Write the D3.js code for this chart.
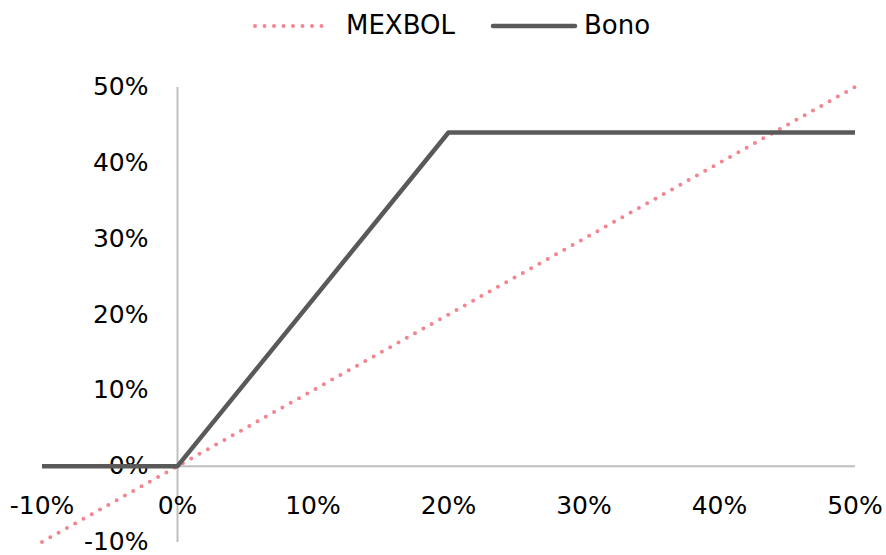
<!DOCTYPE html>
<html><head><meta charset="utf-8">
<script src="https://cdn.jsdelivr.net/npm/d3@7/dist/d3.min.js"></script>
<style>body{margin:0;background:#fff;} text{font-family:"DejaVu Sans",sans-serif;fill:#000;}</style>
</head><body>
<svg id="c" width="886" height="555"></svg>
<script>
const xTicks = [-0.1, 0, 0.1, 0.2, 0.3, 0.4, 0.5];
const yTicks = [-0.1, 0, 0.1, 0.2, 0.3, 0.4, 0.5];
const mexbolX = [-0.1, 0.5];
const mexbolY = [-0.1, 0.5];
const bonoX = [-0.1, 0, 0.2, 0.5];
const bonoY = [0, 0, 0.44, 0.44];
const seriesNames = ["MEXBOL", "Bono"];

const svg = d3.select("#c");
const x = d3.scaleLinear().domain([-0.1, 0.5]).range([42, 855]);
const y = d3.scaleLinear().domain([-0.1, 0.5]).range([542, 87]);
const fmt = d => d3.format(".0%")(d).replace("\u2212", "-");

// axes lines
svg.append("line").attr("x1", x(-0.1)).attr("x2", x(0.5)).attr("y1", y(0)).attr("y2", y(0))
  .attr("stroke", "#BFBFBF").attr("stroke-width", 2);
svg.append("line").attr("x1", x(0)).attr("x2", x(0)).attr("y1", y(0.5)).attr("y2", y(-0.1))
  .attr("stroke", "#BFBFBF").attr("stroke-width", 2);

// tick labels
svg.append("g").selectAll("text").data(xTicks).join("text")
  .attr("x", d => x(d)).attr("y", y(0) + 48).attr("text-anchor", "middle")
  .attr("font-size", 25).text(d => fmt(d));
svg.append("g").selectAll("text").data(yTicks).join("text")
  .attr("x", x(0) - 29).attr("y", d => y(d) - 1).attr("dy", "0.36em").attr("text-anchor", "end")
  .attr("font-size", 25).text(d => fmt(d));

const line = d3.line().x(d => x(d[0])).y(d => y(d[1]));
svg.append("path").datum(d3.zip(mexbolX, mexbolY)).attr("d", line)
  .attr("fill", "none").attr("stroke", "#F4848F").attr("stroke-width", 4)
  .attr("stroke-linecap", "round").attr("stroke-dasharray", "0 9.5");
svg.append("path").datum(d3.zip(bonoX, bonoY)).attr("d", line)
  .attr("fill", "none").attr("stroke", "#595959").attr("stroke-width", 4.5)
  .attr("stroke-linejoin", "round");

// legend
const lg = svg.append("g");
lg.append("line").attr("x1", 255).attr("x2", 331).attr("y1", 26).attr("y2", 26)
  .attr("stroke", "#F4848F").attr("stroke-width", 4).attr("stroke-linecap", "round").attr("stroke-dasharray", "0 9.5");
lg.append("text").attr("x", 346).attr("y", 25).attr("dy", "0.36em").attr("font-size", 26).text(seriesNames[0]);
lg.append("line").attr("x1", 493).attr("x2", 575).attr("y1", 26).attr("y2", 26)
  .attr("stroke", "#595959").attr("stroke-width", 4.5).attr("stroke-linecap", "round");
lg.append("text").attr("x", 584).attr("y", 25).attr("dy", "0.36em").attr("font-size", 26).text(seriesNames[1]);
</script>
</body></html>
